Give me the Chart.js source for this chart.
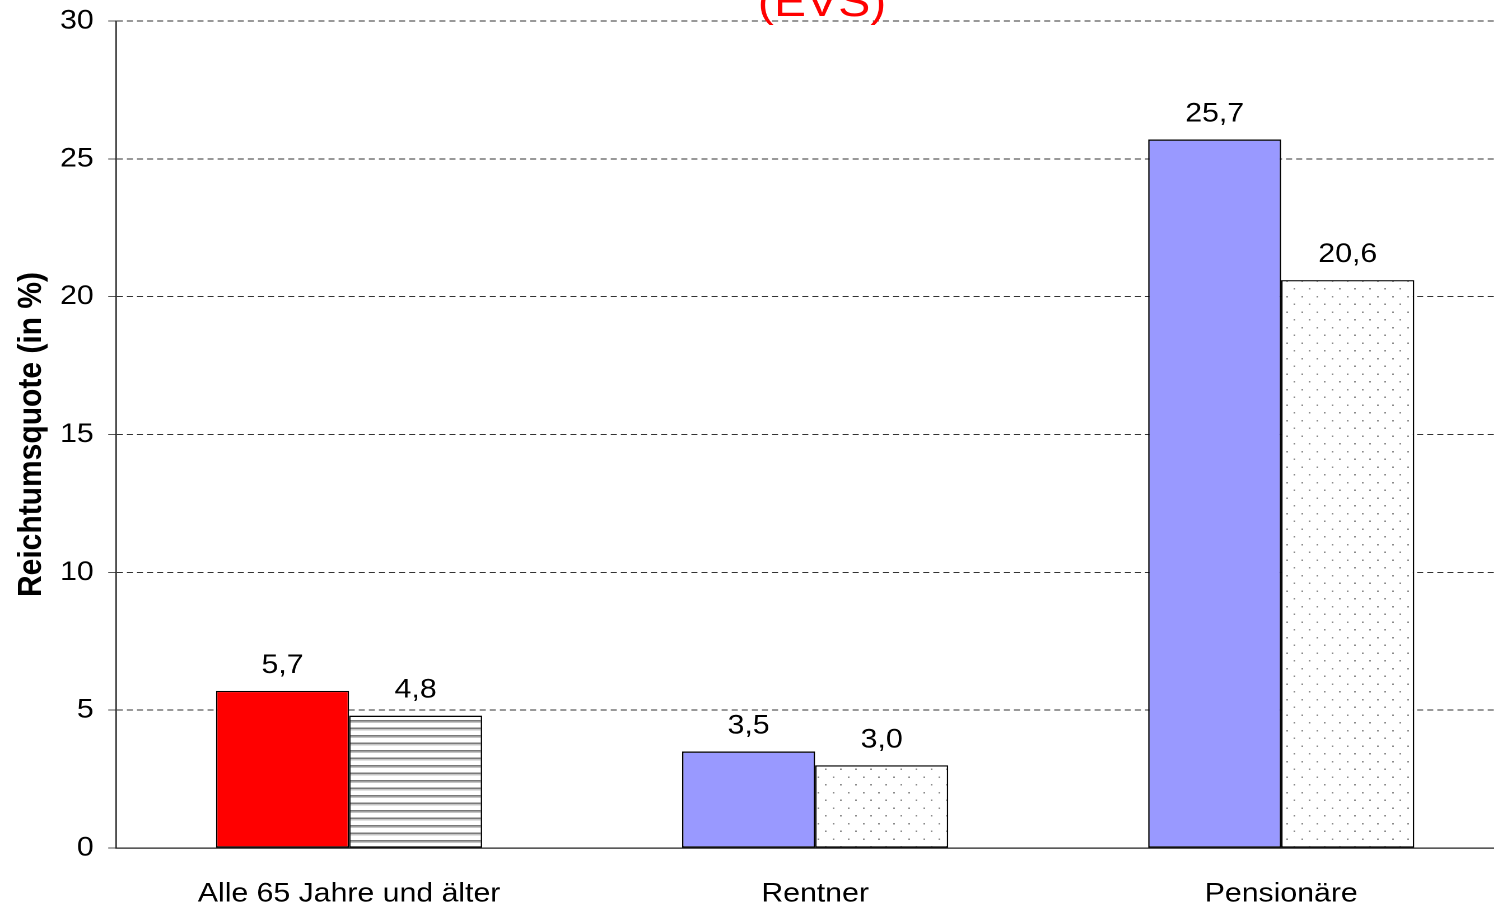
<!DOCTYPE html>
<html>
<head>
<meta charset="utf-8">
<script src="https://cdn.jsdelivr.net/npm/chart.js@4.4.1/dist/chart.umd.min.js"></script>
<style>
  html, body { margin: 0; padding: 0; background: #fff; overflow: hidden; width: 1494px; height: 907px; }
  #wrap { position: absolute; left: 0; top: 0; width: 1360px; height: 907px; transform: scaleX(1.12); transform-origin: 0 0; }
</style>
</head>
<body>
<div id="wrap"><canvas id="c" width="1360" height="907"></canvas></div>
<script>
// ---- data ----
const categories = ['Alle 65 Jahre und älter', 'Rentner', 'Pensionäre'];
const series1Values = [5.7, 3.5, 25.7];
const series2Values = [4.8, 3.0, 20.6];
const yTicks = [0, 5, 10, 15, 20, 25, 30];
const titleText = '(EVS)';
const yAxisTitle = 'Reichtumsquote (in %)';

const FONT = "'Liberation Sans', Arial, sans-serif";

function makePattern(kind) {
  const t = document.createElement('canvas');
  const g = t.getContext('2d');
  if (kind === 'dots') {
    t.width = 27; t.height = 31;
    g.fillStyle = '#fff'; g.fillRect(0, 0, t.width, t.height);
    g.fillStyle = '#8c8c8c';
    g.fillRect(2, 3, 3, 3);
    g.fillRect(15, 18, 3, 3);
  } else {
    t.width = 4; t.height = 15;
    g.fillStyle = '#fff'; g.fillRect(0, 0, t.width, t.height);
    g.fillStyle = '#7a7a7a'; g.fillRect(0, 0, 4, 3);
    g.fillStyle = '#c6c6c6'; g.fillRect(0, 3, 4, 3);
  }
  const p = document.createElement('canvas').getContext('2d').createPattern(t, 'repeat');
  p.setTransform(new DOMMatrix([0.5, 0, 0, 0.5, 0, 0]));
  return p;
}
const stripes = makePattern('stripes');
const dots = makePattern('dots');

const valueLabels = {
  id: 'valueLabels',
  afterDatasetsDraw(chart) {
    const ctx = chart.ctx;
    ctx.save();
    ctx.font = '27px ' + FONT;
    ctx.fillStyle = '#000';
    ctx.textAlign = 'center';
    ctx.textBaseline = 'alphabetic';
    chart.data.datasets.forEach((ds, di) => {
      const meta = chart.getDatasetMeta(di);
      meta.data.forEach((bar, i) => {
        ctx.fillText(ds.data[i].toFixed(1).replace('.', ','), bar.x, bar.y - 18);
      });
    });
    ctx.restore();
  }
};

const topTitle = {
  id: 'topTitle',
  afterDraw(chart) {
    const ctx = chart.ctx;
    ctx.save();
    ctx.font = '43px ' + FONT;
    ctx.fillStyle = '#ff0000';
    ctx.textAlign = 'center';
    ctx.textBaseline = 'alphabetic';
    ctx.fillText(titleText, 734, 16);
    ctx.restore();
  }
};

new Chart(document.getElementById('c'), {
  type: 'bar',
  data: {
    labels: categories,
    datasets: [
      {
        data: series1Values,
        backgroundColor: ['#ff0000', '#9999ff', '#9999ff'],
        borderColor: '#000',
        borderWidth: 1.3,
        borderSkipped: false
      },
      {
        data: series2Values,
        backgroundColor: [stripes, dots, dots],
        borderColor: '#000',
        borderWidth: 1.3,
        borderSkipped: false
      }
    ]
  },
  options: {
    responsive: false,
    animation: false,
    devicePixelRatio: 2,
    categoryPercentage: 0.571,
    barPercentage: 1,
    layout: { padding: { top: 21, left: 0, right: 8, bottom: 0 } },
    plugins: { legend: { display: false }, tooltip: { enabled: false }, title: { display: false } },
    scales: {
      x: {
        grid: { display: false, drawTicks: false },
        border: { display: true, color: '#222', width: 1.3 },
        ticks: { color: '#000', font: { family: FONT, size: 27 }, padding: 30, maxRotation: 0, autoSkip: false },
        afterFit(s) { s.height = 59; s.paddingLeft = 0; s.paddingRight = 0; }
      },
      y: {
        min: 0, max: 30,
        afterBuildTicks(s) { s.ticks = yTicks.map(v => ({ value: v })); },
        grid: { color: '#333', lineWidth: 1, tickLength: 7, tickColor: '#555', tickBorderDash: [] },
        border: { display: true, color: '#222', width: 1.3, dash: [5.4, 3.6] },
        ticks: { color: '#000', font: { family: FONT, size: 27 }, padding: 13 },
        title: { display: true, text: yAxisTitle, color: '#000', font: { family: FONT, size: 30, weight: 'bold' }, padding: { top: 10, bottom: 0 } },
        afterFit(s) { s.width = 103.6; s.paddingTop = 0; s.paddingBottom = 0; }
      }
    }
  },
  plugins: [valueLabels, topTitle]
});
</script>
</body>
</html>
